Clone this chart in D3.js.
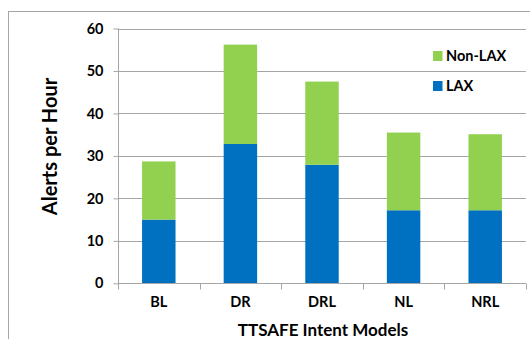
<!DOCTYPE html>
<html>
<head>
<meta charset="utf-8">
<script src="https://cdn.jsdelivr.net/npm/d3@7/dist/d3.min.js"></script>
<style>
  html, body { margin: 0; padding: 0; background: #fff; }
  svg { display: block; }
  text { font-family: Lato, "Open Sans", sans-serif; font-weight: bold; fill: #000; }
</style>
</head>
<body>
<script>
// Alerts per hour for each TTSAFE intent model, split into LAX and non-LAX alerts
const models = ["BL", "DR", "DRL", "NL", "NRL"];
const laxValues = [15.0, 32.8, 27.9, 17.2, 17.2];
const nonLaxValues = [13.7, 23.4, 19.6, 18.3, 17.9];
const yTicks = [0, 10, 20, 30, 40, 50, 60];
const seriesNames = ["LAX", "Non-LAX"];
const seriesColors = ["#0070C0", "#92D050"];

const W = 530, H = 339;
const svg = d3.select("body").append("svg").attr("width", W).attr("height", H);

// outer chart frame
svg.append("rect")
  .attr("x", 8.5).attr("y", 11.5).attr("width", W).attr("height", H)
  .attr("fill", "none").attr("stroke", "#a6a6a6").attr("stroke-width", 1);

const plot = { left: 118, right: 526, top: 28.5, bottom: 283.3 };

const x = d3.scaleBand().domain(models).range([plot.left, plot.right])
  .paddingInner(0.59).paddingOuter(0.295);
const y = d3.scaleLinear().domain([0, 60]).range([plot.bottom, plot.top]);

// horizontal gridlines
svg.append("g").selectAll("line").data(yTicks.filter(d => d > 0)).join("line")
  .attr("x1", plot.left).attr("x2", plot.right)
  .attr("y1", d => Math.round(y(d)) + 0.5).attr("y2", d => Math.round(y(d)) + 0.5)
  .attr("stroke", "#a6a6a6").attr("stroke-width", 1);

// stacked bars
const rows = models.map((m, i) => ({ model: m, LAX: laxValues[i], "Non-LAX": nonLaxValues[i] }));
const stacked = d3.stack().keys(seriesNames)(rows);
svg.append("g").selectAll("g").data(stacked).join("g")
  .attr("fill", (d, i) => seriesColors[i])
  .selectAll("rect").data(d => d).join("rect")
  .attr("x", d => x(d.data.model))
  .attr("width", x.bandwidth())
  .attr("y", d => y(d[1]))
  .attr("height", d => y(d[0]) - y(d[1]));

// y axis
const yAxis = svg.append("g").attr("transform", `translate(${plot.left + 0.5},0)`)
  .call(d3.axisLeft(y).tickValues(yTicks).tickSize(5).tickPadding(10).tickSizeOuter(0));
yAxis.attr("font-family", null).attr("font-size", null);
yAxis.select(".domain").attr("stroke", "#a6a6a6").attr("d", `M0,${plot.top}V${plot.bottom}`);
yAxis.selectAll(".tick line").attr("stroke", "#a6a6a6");
yAxis.selectAll(".tick text").style("font-size", "14.5px").attr("fill", "#000");

// x axis with boundary tick marks between categories
const xAxisG = svg.append("g").attr("transform", `translate(0,${Math.round(plot.bottom) + 0.5})`);
xAxisG.append("line").attr("x1", plot.left).attr("x2", plot.right)
  .attr("stroke", "#a6a6a6");
const bounds = models.map(m => x(m) - x.step() * x.paddingInner() / 2).concat([plot.right]);
xAxisG.selectAll("line.tk").data(bounds).join("line").attr("class", "tk")
  .attr("x1", d => Math.round(d) + 0.5).attr("x2", d => Math.round(d) + 0.5)
  .attr("y1", 0).attr("y2", 6).attr("stroke", "#a6a6a6");
xAxisG.selectAll("text").data(models).join("text")
  .attr("x", d => x(d) + x.bandwidth() / 2).attr("y", 23)
  .attr("text-anchor", "middle").style("font-size", "14.5px").text(d => d);

// axis titles
svg.append("text").attr("x", (plot.left + plot.right) / 2 + 1).attr("y", 336)
  .attr("text-anchor", "middle").style("font-size", "17px")
  .text("TTSAFE Intent Models");
svg.append("text").attr("transform", "translate(57,146.5) rotate(-90)")
  .attr("text-anchor", "middle").style("font-size", "20px")
  .text("Alerts per Hour");

// legend
const legendItems = [{ name: "Non-LAX", color: seriesColors[1], cy: 56 }, { name: "LAX", color: seriesColors[0], cy: 86 }];
const lg = svg.append("g").selectAll("g").data(legendItems).join("g");
lg.append("rect").attr("x", 433).attr("y", d => d.cy - 5).attr("width", 9.5).attr("height", 10).attr("fill", d => d.color);
lg.append("text").attr("x", 446).attr("y", d => d.cy + 5).style("font-size", "14.5px").text(d => d.name);
</script>
</body>
</html>
